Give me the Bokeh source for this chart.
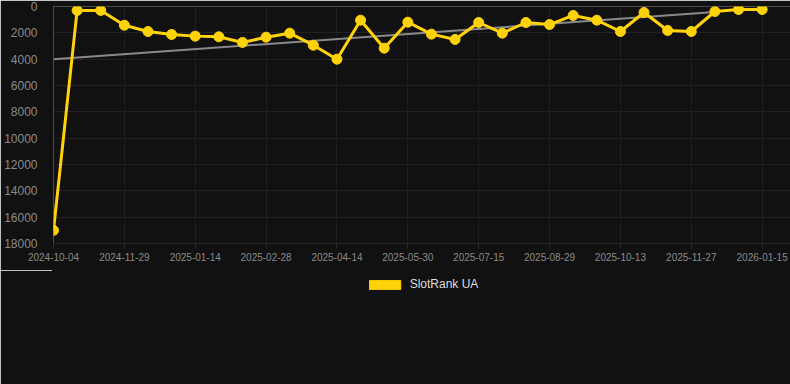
from bokeh.plotting import figure
from bokeh.layouts import column
from bokeh.models import Range1d, FixedTicker, Legend, LegendItem, ColumnDataSource
from bokeh.embed import file_html
from bokeh.resources import INLINE

# data
idx = list(range(31))
rank = [17000, 300, 300, 1420, 1900, 2125, 2250, 2300, 2730, 2330, 2025, 2940,
        4000, 1040, 3165, 1190, 2100, 2500, 1215, 2025, 1215, 1370, 680, 1040,
        1900, 455, 1820, 1900, 380, 230, 230]
tick_idx = [0, 3, 6, 9, 12, 15, 18, 21, 24, 27, 30]
tick_labels = ["2024-10-04", "2024-11-29", "2025-01-14", "2025-02-28", "2025-04-14",
               "2025-05-30", "2025-07-15", "2025-08-29", "2025-10-13", "2025-11-27",
               "2026-01-15"]
trend_x = [0, 28]
trend_y = [4000, 420]
series_name = "SlotRank UA"

BG = "#111111"
GOLD = "#FFD20A"
FONT = "Liberation Sans"

main = figure(width=790, height=270, output_backend="svg", toolbar_location=None,
              x_range=Range1d(0, 31.2), y_range=Range1d(18000, 0),
              background_fill_color=BG, border_fill_color=BG,
              min_border_left=53, min_border_right=0, min_border_top=6,
              min_border_bottom=27)
main.outline_line_color = None

main.xaxis.ticker = FixedTicker(ticks=tick_idx)
main.xaxis.major_label_overrides = {i: l for i, l in zip(tick_idx, tick_labels)}
main.yaxis.ticker = FixedTicker(ticks=list(range(0, 18001, 2000)))

for ax in (main.xaxis, main.yaxis):
    ax.axis_line_color = "#2a2a2a"
    ax.major_tick_line_color = "#2a2a2a"
    ax.minor_tick_line_color = None
    ax.major_label_text_color = "#8a8a8a"
    ax.major_label_text_font = FONT
main.yaxis.axis_line_color = None
main.yaxis.major_tick_line_color = None
main.yaxis.major_label_text_font_size = "12px"
main.yaxis.major_label_standoff = 10
main.xaxis.major_label_text_font_size = "10px"
main.xaxis.major_tick_out = 5
main.xaxis.major_tick_in = 0
main.xaxis.major_label_standoff = 4

main.xgrid.grid_line_color = "#1e1e1e"
main.ygrid.grid_line_color = "#222222"

main.line(trend_x, trend_y, line_color="#8a8a8a", line_width=2)

src = ColumnDataSource(dict(x=idx, y=rank))
main.line("x", "y", source=src, line_color=GOLD, line_width=3)
main.scatter("x", "y", source=src, size=10, fill_color=GOLD, line_color=GOLD)

# legend strip below the chart
leg = figure(width=790, height=114, output_backend="svg", toolbar_location=None,
             x_range=Range1d(0, 1), y_range=Range1d(0, 1),
             x_axis_type=None, y_axis_type=None,
             background_fill_color=BG, border_fill_color=BG,
             min_border_left=0, min_border_right=0, min_border_top=0,
             min_border_bottom=0)
leg.outline_line_color = BG
leg.outline_line_width = 3
leg.grid.visible = False
dummy = leg.rect(x=[-5], y=[-5], width=1, height=1, fill_color=GOLD, line_color=GOLD)
legend = Legend(items=[LegendItem(label=series_name, renderers=[dummy])],
                location="top_center", orientation="horizontal",
                background_fill_alpha=0, border_line_color=None,
                label_text_color="#dddddd", label_text_font=FONT,
                label_text_font_size="12px", glyph_width=39, glyph_height=11,
                margin=7, padding=9, label_standoff=6)
leg.add_layout(legend, "center")

p = column(main, leg, spacing=0)

open("out.html", "w").write(file_html(p, INLINE))
